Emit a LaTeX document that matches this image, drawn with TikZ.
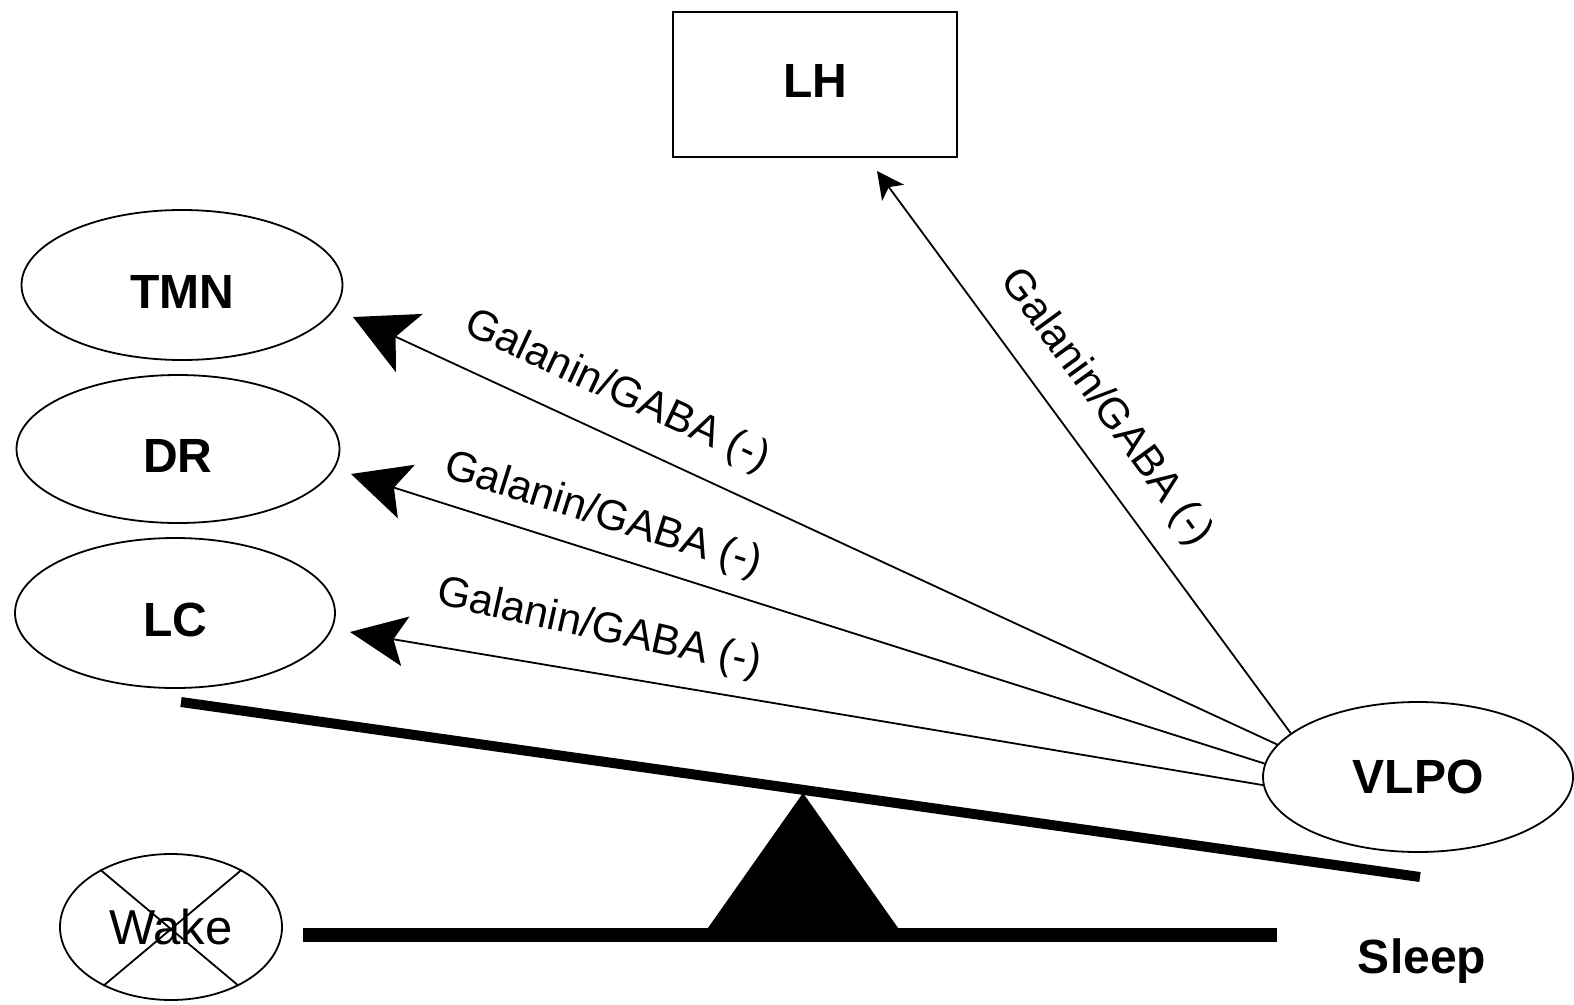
\documentclass[tikz,border=0pt]{standalone}
\usepackage{fontspec}
\setmainfont{Liberation Sans}
\usetikzlibrary{shapes.geometric,arrows.meta}
\begin{document}
\begin{tikzpicture}[x=1pt,y=-1pt,
  region/.style={draw, ellipse, line width=1.8pt, inner sep=0pt,
    font=\fontsize{48}{56}\selectfont\bfseries},
  lowtext/.style={text height=46pt, text depth=0pt},
  lbl/.style={font=\fontsize{42.5}{50}\selectfont, inner sep=0pt},
  thinline/.style={line width=1.8pt},
]
\useasboundingbox (0,0) rectangle (1574,1004);

% nodes
\node[draw, line width=1.8pt, minimum width=284pt, minimum height=145pt, inner sep=0pt,
  font=\fontsize{48}{56}\selectfont\bfseries, text height=35pt, text depth=10pt] (LH) at (815,84.5) {LH};
\node[region, lowtext, minimum width=321pt, minimum height=150pt] (TMN) at (182,285) {TMN};
\node[region, lowtext, minimum width=323pt, minimum height=148pt] (DR) at (178,449) {DR};
\node[region, lowtext, minimum width=320pt, minimum height=150pt] (LC) at (175,613) {LC};
\node[region, minimum width=310pt, minimum height=150pt] (VLPO) at (1418,777) {VLPO};
\node[draw, ellipse, line width=1.8pt, inner sep=0pt, minimum width=222pt, minimum height=146pt,
  font=\fontsize{49}{56}\selectfont] (Wake) at (171,927) {Wake};
\draw[thinline] (Wake.141) -- (Wake.-41);
\draw[thinline] (Wake.39) -- (Wake.221);
\node[font=\fontsize{48}{56}\selectfont\bfseries, anchor=base, inner sep=0pt] (Sleep) at (1422,973) {Sleep};

% arrow tips
\coordinate (tTMN) at (353,317);
\coordinate (tDR) at (351,474);
\coordinate (tLC) at (350,632);
\coordinate (tLH) at (877,171);

\draw[thinline, -{Stealth[length=62pt, width=64pt, inset=15pt]}] (VLPO.167.4) -- (tTMN);
\draw[thinline, -{Stealth[length=58pt, width=56pt, inset=13pt]}] (VLPO.175.5) -- (tDR);
\draw[thinline, -{Stealth[length=56pt, width=50pt, inset=12pt]}] (VLPO.183) -- (tLC);
\draw[thinline, -{Stealth[length=27pt, width=27pt, inset=7pt]}] (VLPO.161) -- (tLH);

% labels
\node[lbl, rotate=-25] (l1) at (617,392) {Galanin/GABA (-)};
\node[lbl, rotate=-17.5] (l2) at (603,516) {Galanin/GABA (-)};
\node[lbl, rotate=-12.5] (l3) at (599,629) {Galanin/GABA (-)};
\node[lbl, rotate=-54] (l4) at (1106,408) {Galanin/GABA (-)};

% balance
\coordinate (beamL) at (181,702);
\coordinate (beamR) at (1420,877);
\coordinate (baseL) at (303,935);
\coordinate (baseR) at (1277,935);
\coordinate (apex) at (803,793);
\fill (apex) -- (703,935) -- (903,935) -- cycle;
\draw[line width=14pt] (baseL) -- (baseR);
\draw[line width=10pt] (beamL) -- (beamR);
\end{tikzpicture}
\end{document}
